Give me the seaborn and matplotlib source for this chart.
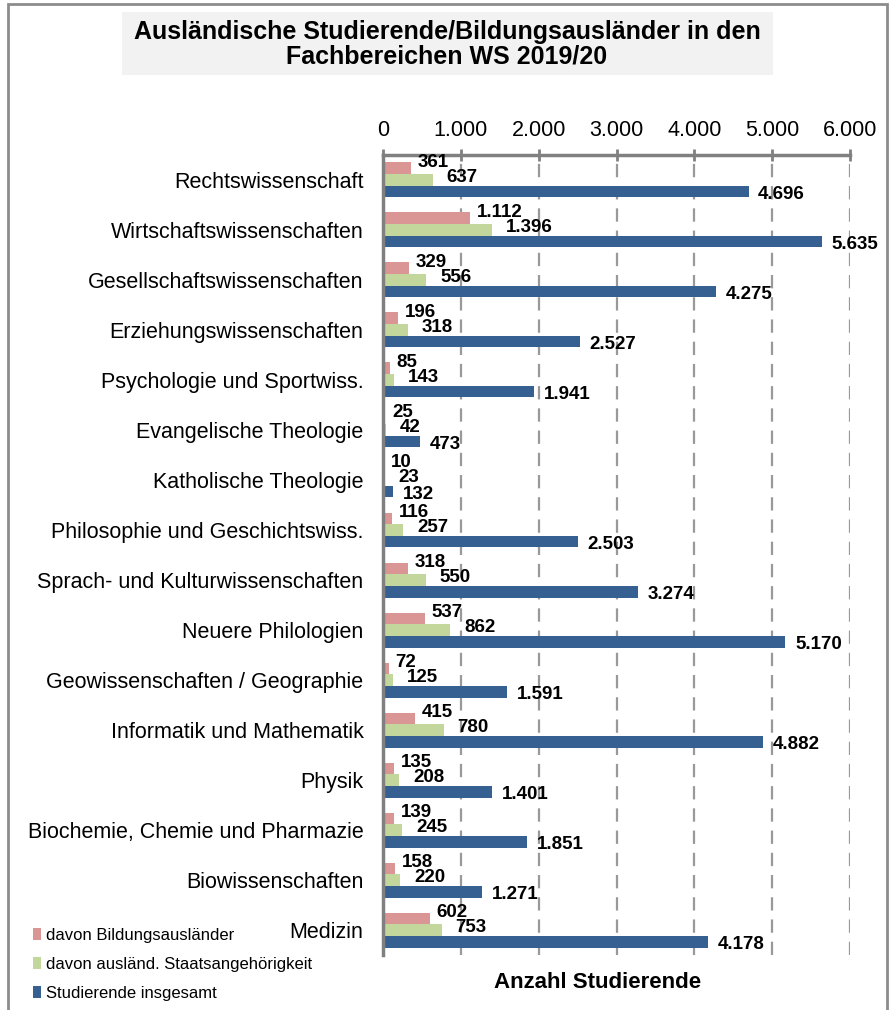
import pandas as pd
import matplotlib.pyplot as plt
import seaborn as sns
from matplotlib.patches import Patch, Rectangle

# Daten
faecher = ['Rechtswissenschaft', 'Wirtschaftswissenschaften', 'Gesellschaftswissenschaften',
           'Erziehungswissenschaften', 'Psychologie und Sportwiss.', 'Evangelische Theologie',
           'Katholische Theologie', 'Philosophie und Geschichtswiss.',
           'Sprach- und Kulturwissenschaften', 'Neuere Philologien',
           'Geowissenschaften / Geographie', 'Informatik und Mathematik', 'Physik',
           'Biochemie, Chemie und Pharmazie', 'Biowissenschaften', 'Medizin']
bildungsauslaender = [361, 1112, 329, 196, 85, 25, 10, 116, 318, 537, 72, 415, 135, 139, 158, 602]
auslaend_staatsang = [637, 1396, 556, 318, 143, 42, 23, 257, 550, 862, 125, 780, 208, 245, 220, 753]
insgesamt = [4696, 5635, 4275, 2527, 1941, 473, 132, 2503, 3274, 5170, 1591, 4882, 1401, 1851, 1271, 4178]
serien = ['davon Bildungsausländer', 'davon ausländ. Staatsangehörigkeit', 'Studierende insgesamt']
farben = ['#da9694', '#c3d69b', '#376092']
xticks = [0, 1000, 2000, 3000, 4000, 5000, 6000]

df = pd.DataFrame({
    'Fach': faecher * 3,
    'Serie': [serien[0]] * 16 + [serien[1]] * 16 + [serien[2]] * 16,
    'Wert': bildungsauslaender + auslaend_staatsang + insgesamt,
})

def fmt(v):
    return f'{v:,}'.replace(',', '.')

sns.set_style('white')
plt.rcParams['font.family'] = ['Liberation Sans', 'DejaVu Sans']
plt.rcParams['text.color'] = 'black'
plt.rcParams['xtick.color'] = 'black'
plt.rcParams['ytick.color'] = 'black'

fig = plt.figure(figsize=(8.89, 10.10), dpi=100)
ax = fig.add_axes([383 / 889, 1 - 955 / 1010, (850 - 383) / 889, (955 - 155) / 1010])

sns.barplot(data=df, y='Fach', x='Wert', hue='Serie', order=faecher, hue_order=serien,
            palette=farben, orient='h', width=0.7, gap=0, saturation=1, legend=False, ax=ax,
            edgecolor='none')

# Wertebeschriftungen (leicht versetzt wie im Original)
offsets = [(5, 4), (10, 2), (7, -2)]
for cont, (dx, dy) in zip(ax.containers, offsets):
    for bar in cont:
        w = bar.get_width()
        yc = bar.get_y() + bar.get_height() / 2
        ax.annotate(fmt(int(round(w))), (w, yc), xytext=(dx, dy), textcoords='offset points',
                    ha='left', va='center', fontsize=13.5, fontweight='bold', color='black')

ax.set_xlim(0, 6000)
ax.set_ylim(15.5, -0.5)
ax.set_xticks(xticks)
ax.set_xticklabels([fmt(t) for t in xticks], fontsize=15.5)
ax.xaxis.tick_top()
ax.tick_params(axis='x', which='major', direction='inout', length=8, width=2, color='#808080', pad=6)
ax.set_yticks(range(16))
ax.set_yticklabels(faecher, fontsize=15.5)
ax.tick_params(axis='y', length=0, pad=14)
# Kategoriegrenzen als Ticks links
ax.set_yticks([i + 0.5 for i in range(-1, 16)], minor=True)
ax.tick_params(axis='y', which='minor', direction='out', length=6, width=2, color='#808080')
ax.set_xlabel('')
ax.set_ylabel('')

for x in xticks[1:]:
    ax.axvline(x, color='#999999', lw=1.6, linestyle=(0, (6, 4)), zorder=0)

for s in ['right', 'bottom']:
    ax.spines[s].set_visible(False)
for s in ['top', 'left']:
    ax.spines[s].set_color('#808080')
    ax.spines[s].set_linewidth(2.5)

# Titel mit grauem Kasten
fig.patches.append(Rectangle((122 / 889, 1 - 75 / 1010), (773 - 122) / 889, 63 / 1010,
                             transform=fig.transFigure, facecolor='#f2f2f2', edgecolor='none'))
fig.text(447 / 889, 1 - 44 / 1010,
         'Ausländische Studierende/Bildungsausländer in den\nFachbereichen WS 2019/20',
         ha='center', va='center', fontsize=18, fontweight='bold', linespacing=1.05)

# Rahmen
fig.patches.append(Rectangle((8 / 889, -0.02), (879) / 889, 1.02 - 4 / 1010,
                             transform=fig.transFigure, facecolor='none', edgecolor='#8c8c8c', lw=2))

fig.text(598 / 889, 1 - 982 / 1010, 'Anzahl Studierende', ha='center', va='center',
         fontsize=16, fontweight='bold')

handles = [Patch(facecolor=c, edgecolor='none') for c in farben]
fig.legend(handles, serien, loc='lower left', bbox_to_anchor=(18 / 889, -0.006), frameon=False,
           fontsize=12, handlelength=0.5, handleheight=0.7, handletextpad=0.25, labelspacing=0.85)

fig.savefig('out.png', dpi=100)
